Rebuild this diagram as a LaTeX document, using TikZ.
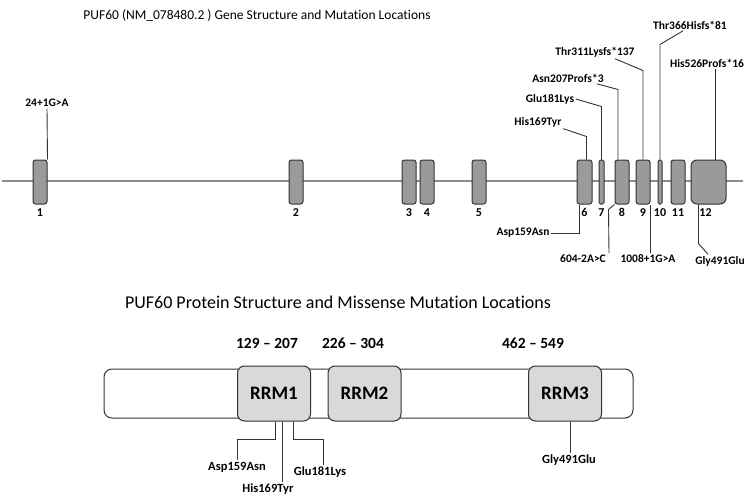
\documentclass[tikz,border=0pt]{standalone}
\usepackage{fontspec}
\setmainfont{Carlito}[Ligatures=NoCommon]
\usetikzlibrary{positioning}
\definecolor{exongray}{HTML}{9A9A9A}
\definecolor{rrmgray}{HTML}{D9D9D9}
\definecolor{introngray}{HTML}{8C8C8C}
\definecolor{inkgray}{HTML}{333333}
\tikzset{
  exon/.style={draw=inkgray, fill=exongray, line width=1pt, rounded corners=2.5pt,
    minimum height=44pt, inner sep=0pt},
  exnum/.style={font=\bfseries\fontsize{12}{13}\selectfont, inner sep=1pt},
  mut/.style={font=\bfseries\fontsize{11.5}{13}\selectfont, inner sep=1.5pt},
  pmut/.style={font=\bfseries\fontsize{12.5}{14}\selectfont, inner sep=1.5pt},
  rng/.style={font=\bfseries\fontsize{15.5}{17}\selectfont, inner sep=1pt},
  rrm/.style={draw=inkgray, fill=rrmgray, line width=1pt, rounded corners=7pt,
    minimum width=73pt, minimum height=55pt, inner sep=0pt,
    font=\bfseries\fontsize{19}{21}\selectfont},
  link/.style={draw=inkgray, line width=0.9pt},
  heading/.style={inner sep=0pt}
}
\begin{document}
\begin{tikzpicture}[x=1pt, y=-1pt]
  \useasboundingbox (0,0) rectangle (748,499);
  % gene
  \node[heading, font=\fontsize{13.5}{16}\selectfont] (genetitle) at (257,15)
    {PUF60 (NM\_078480.2 ) Gene Structure and Mutation Locations};
  \coordinate (gstart) at (2,181);
  \coordinate (gend) at (743,181);
  \draw[introngray, line width=1.4pt] (gstart) -- (gend);
  \node[exon, minimum width=14pt] (e1) at (40,182) {};
  \node[exon, minimum width=14pt] (e2) at (296,182) {};
  \node[exon, minimum width=14pt] (e3) at (409,182) {};
  \node[exon, minimum width=14pt] (e4) at (427,182) {};
  \node[exon, minimum width=14pt] (e5) at (479,182) {};
  \node[exon, minimum width=15pt] (e6) at (584.5,182) {};
  \node[exon, minimum width=5pt, rounded corners=1.5pt] (e7) at (601.5,182) {};
  \node[exon, minimum width=14pt] (e8) at (622,182) {};
  \node[exon, minimum width=14pt] (e9) at (643,182) {};
  \node[exon, minimum width=4pt, rounded corners=1.5pt] (e10) at (660,182) {};
  \node[exon, minimum width=14pt] (e11) at (678,182) {};
  \node[exon, minimum width=35pt, rounded corners=6pt] (e12) at (708.5,182) {};
  \node[exnum, below=3pt of e1] (n1) {1};
  \node[exnum, below=3pt of e2] (n2) {2};
  \node[exnum, below=3pt of e3] (n3) {3};
  \node[exnum, below=3pt of e4] (n4) {4};
  \node[exnum, below=3pt of e5] (n5) {5};
  \node[exnum, below=3pt of e6] (n6) {6};
  \node[exnum, below=3pt of e7] (n7) {7};
  \node[exnum, below=3pt of e8] (n8) {8};
  \node[exnum, below=3pt of e9] (n9) {9};
  \node[exnum, below=3pt of e10] (n10) {10};
  \node[exnum, below=3pt of e11] (n11) {11};
  \node[exnum, below=3pt of e12, xshift=-3pt] (n12) {12};
  % mutations above
  \node[mut] (g24) at (47,103) {24+1G>A};
  \node[mut] (h169) at (538,122) {His169Tyr};
  \node[mut] (g181) at (550,99) {Glu181Lys};
  \node[mut] (a207) at (568,78) {Asn207Profs*3};
  \node[mut] (t311) at (595,52) {Thr311Lysfs*137};
  \node[mut] (t366) at (690,25) {Thr366Hisfs*81};
  \node[mut] (h526) at (707,63) {His526Profs*16};
  % mutations below
  \node[mut] (d159) at (523,233) {Asp159Asn};
  \node[mut] (c604) at (583,259) {604-2A>C};
  \node[mut] (g1008) at (648,259) {1008+1G>A};
  \node[mut] (g491) at (720,261) {Gly491Glu};
  \begin{scope}[link]
    \draw (e1.north east) -- (g24.south);
    \draw ([xshift=2pt]e6.north) -- ++(0,-23) -- (h169.south east);
    \draw (e7.north) -- ++(0,-53) -- (g181.east);
    \draw ([xshift=-4pt]e8.north) -- ++(0,-70) -- ([xshift=29pt]a207.south);
    \draw (e9.north) -- ++(0,-89) -- ([xshift=20pt]t311.south);
    \draw (e10.north) -- ++(0,-115) -- ([xshift=-7pt]t366.south);
    \draw ([xshift=7pt]e12.north) -- ([xshift=7pt]e12.north |- h526.south);
    \draw ([xshift=-5pt]e6.south) |- (d159.east);
    \draw (e8.south west) -- ++(-6,5) -- ([xshift=26pt]c604.north);
    \draw (e9.south east) -- (e9.south east |- g1008.north);
    \draw ([xshift=-10pt]e12.south) -- ++(0,39) -- ([xshift=-12pt]g491.north);
  \end{scope}
  % protein
  \node[heading, font=\fontsize{18}{20}\selectfont] (prottitle) at (338,302)
    {PUF60 Protein Structure and Missense Mutation Locations};
  \node[draw=inkgray, fill=white, line width=1pt, rounded corners=8pt,
    minimum width=529pt, minimum height=49pt] (prot) at (368.5,393.5) {};
  \node[rrm] (rrm1) at (274,393.5) {RRM1};
  \node[rrm] (rrm2) at (364.5,393.5) {RRM2};
  \node[rrm] (rrm3) at (565,393.5) {RRM3};
  \node[rng] (r1) at (267,343) {129 – 207};
  \node[rng] (r2) at (353,343) {226 – 304};
  \node[rng] (r3) at (533,343) {462 – 549};
  \node[pmut] (p159) at (237,467) {Asp159Asn};
  \node[pmut] (p169) at (268,489) {His169Tyr};
  \node[pmut] (p181) at (320,472) {Glu181Lys};
  \node[pmut] (p491) at (569,460) {Gly491Glu};
  \begin{scope}[link]
    \draw ([xshift=1pt]rrm1.south) -- ++(0,18) -| (p159.north);
    \draw ([xshift=8pt]rrm1.south) -- ([xshift=8pt]rrm1.south |- p169.north);
    \draw ([xshift=19pt]rrm1.south) -- ++(0,18) -| ([xshift=3pt]p181.north);
    \draw ([xshift=5pt]rrm3.south) -- ([xshift=5pt]rrm3.south |- p491.north);
  \end{scope}
\end{tikzpicture}
\end{document}
